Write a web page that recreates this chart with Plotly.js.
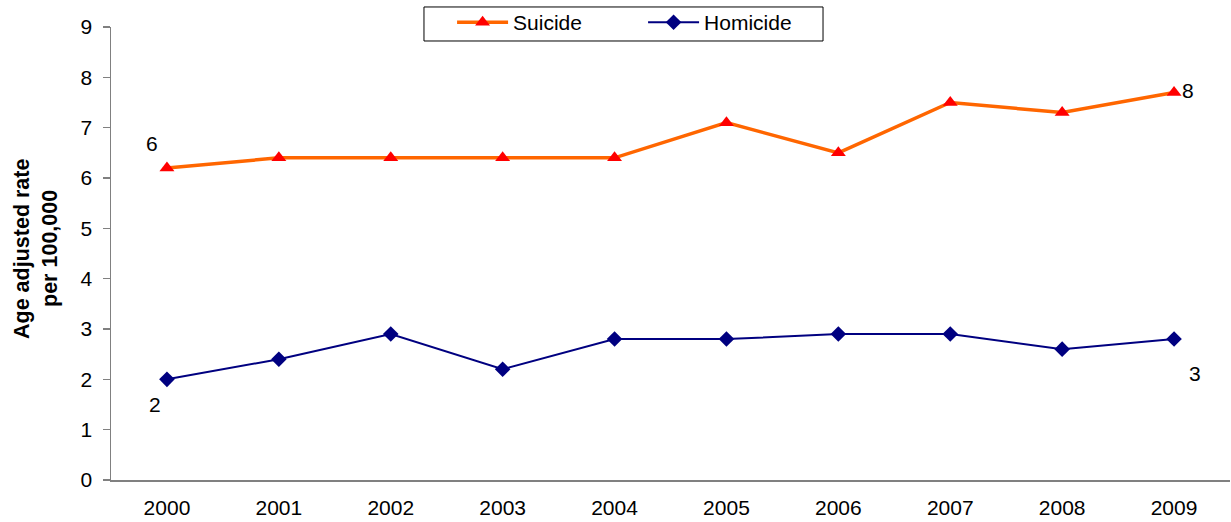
<!DOCTYPE html>
<html>
<head>
<meta charset="utf-8">
<script src="https://cdn.plot.ly/plotly-3.0.1.min.js"></script>
<style>
  html, body { margin: 0; padding: 0; background: #fff; }
  #chart { width: 1231px; height: 522px; }
</style>
</head>
<body>
<div id="chart"></div>
<script>
// Age adjusted suicide and homicide rates per 100,000, 2000-2009
const years = ['2000', '2001', '2002', '2003', '2004', '2005', '2006', '2007', '2008', '2009'];
const suicideRates = [6.2, 6.4, 6.4, 6.4, 6.4, 7.1, 6.5, 7.5, 7.3, 7.7];
const homicideRates = [2.0, 2.4, 2.9, 2.2, 2.8, 2.8, 2.9, 2.9, 2.6, 2.8];
const yTicks = [0, 1, 2, 3, 4, 5, 6, 7, 8, 9];
const yTitleLines = ['Age adjusted rate', 'per 100,000'];

const FONT = 'Arial, "Liberation Sans", sans-serif';
const FS = 21;

const suicide = {
  x: years, y: suicideRates, name: 'Suicide',
  type: 'scatter', mode: 'lines+markers',
  line: { color: '#FF6600', width: 3.5 },
  marker: { symbol: 'triangle-up', color: '#FF0000', size: 13 }
};
const homicide = {
  x: years, y: homicideRates, name: 'Homicide',
  type: 'scatter', mode: 'lines+markers',
  line: { color: '#000080', width: 2 },
  marker: { symbol: 'diamond', color: '#000080', size: 12 }
};

// value labels on the first and last points of each series
// (category axis: annotation x is given as the category index)
const first = 0, last = years.length - 1;
function valueLabel(i, series, xshift, yshift) {
  return {
    x: i, y: series[i], xref: 'x', yref: 'y',
    text: String(Math.round(series[i])), showarrow: false,
    xshift: xshift, yshift: yshift,
    font: { family: FONT, size: FS, color: '#000' }
  };
}

// two-line rotated y-axis title, placed in the left margin
function titleLine(text, xPaper) {
  return {
    x: xPaper, y: 0.51, xref: 'paper', yref: 'paper',
    xanchor: 'center', yanchor: 'middle',
    text: '<b>' + text + '</b>', textangle: -90, showarrow: false,
    font: { family: FONT, size: 21.5, color: '#000' }
  };
}

const layout = {
  width: 1231, height: 522,
  margin: { l: 111, r: 1, t: 27, b: 42 },
  paper_bgcolor: '#fff', plot_bgcolor: '#fff',
  font: { family: FONT, size: FS, color: '#000' },
  showlegend: true,
  legend: {
    orientation: 'h', x: 0.3048, xanchor: 'left', y: 1.055, yanchor: 'top',
    bgcolor: 'rgba(0,0,0,0)', borderwidth: 0,
    font: { family: FONT, size: FS, color: '#000' },
    itemwidth: 51, entrywidth: 125, entrywidthmode: 'pixels',
    traceorder: 'normal'
  },
  xaxis: {
    type: 'category', range: [-0.5, 9.5],
    showline: true, linecolor: '#808080', linewidth: 1.5,
    ticks: '', showgrid: false, zeroline: false,
    ticklabelstandoff: 8,
    tickfont: { family: FONT, size: FS, color: '#000' },
    fixedrange: true
  },
  yaxis: {
    range: [0, 9], tickvals: yTicks,
    showline: true, linecolor: '#808080', linewidth: 1.5,
    ticks: 'outside', ticklen: 7, tickcolor: '#808080', tickwidth: 1.5,
    showgrid: false, zeroline: false,
    ticklabelstandoff: 6,
    tickfont: { family: FONT, size: FS, color: '#000' },
    fixedrange: true
  },
  shapes: [{
    type: 'rect', xref: 'paper', yref: 'paper',
    x0: 0.2797, x1: 0.6363, y0: 0.9691, y1: 1.0442,
    line: { color: '#000', width: 1 }, fillcolor: 'rgba(0,0,0,0)'
  }],
  annotations: [
    valueLabel(first, suicideRates, -15, 24),
    valueLabel(last, suicideRates, 14, 2),
    valueLabel(first, homicideRates, -12, -25),
    valueLabel(last, homicideRates, 21, -34),
    titleLine(yTitleLines[0], (22 - 111) / 1119),
    titleLine(yTitleLines[1], (50 - 111) / 1119)
  ]
};

Plotly.newPlot('chart', [suicide, homicide], layout, { displayModeBar: false, staticPlot: true });
</script>
</body>
</html>
